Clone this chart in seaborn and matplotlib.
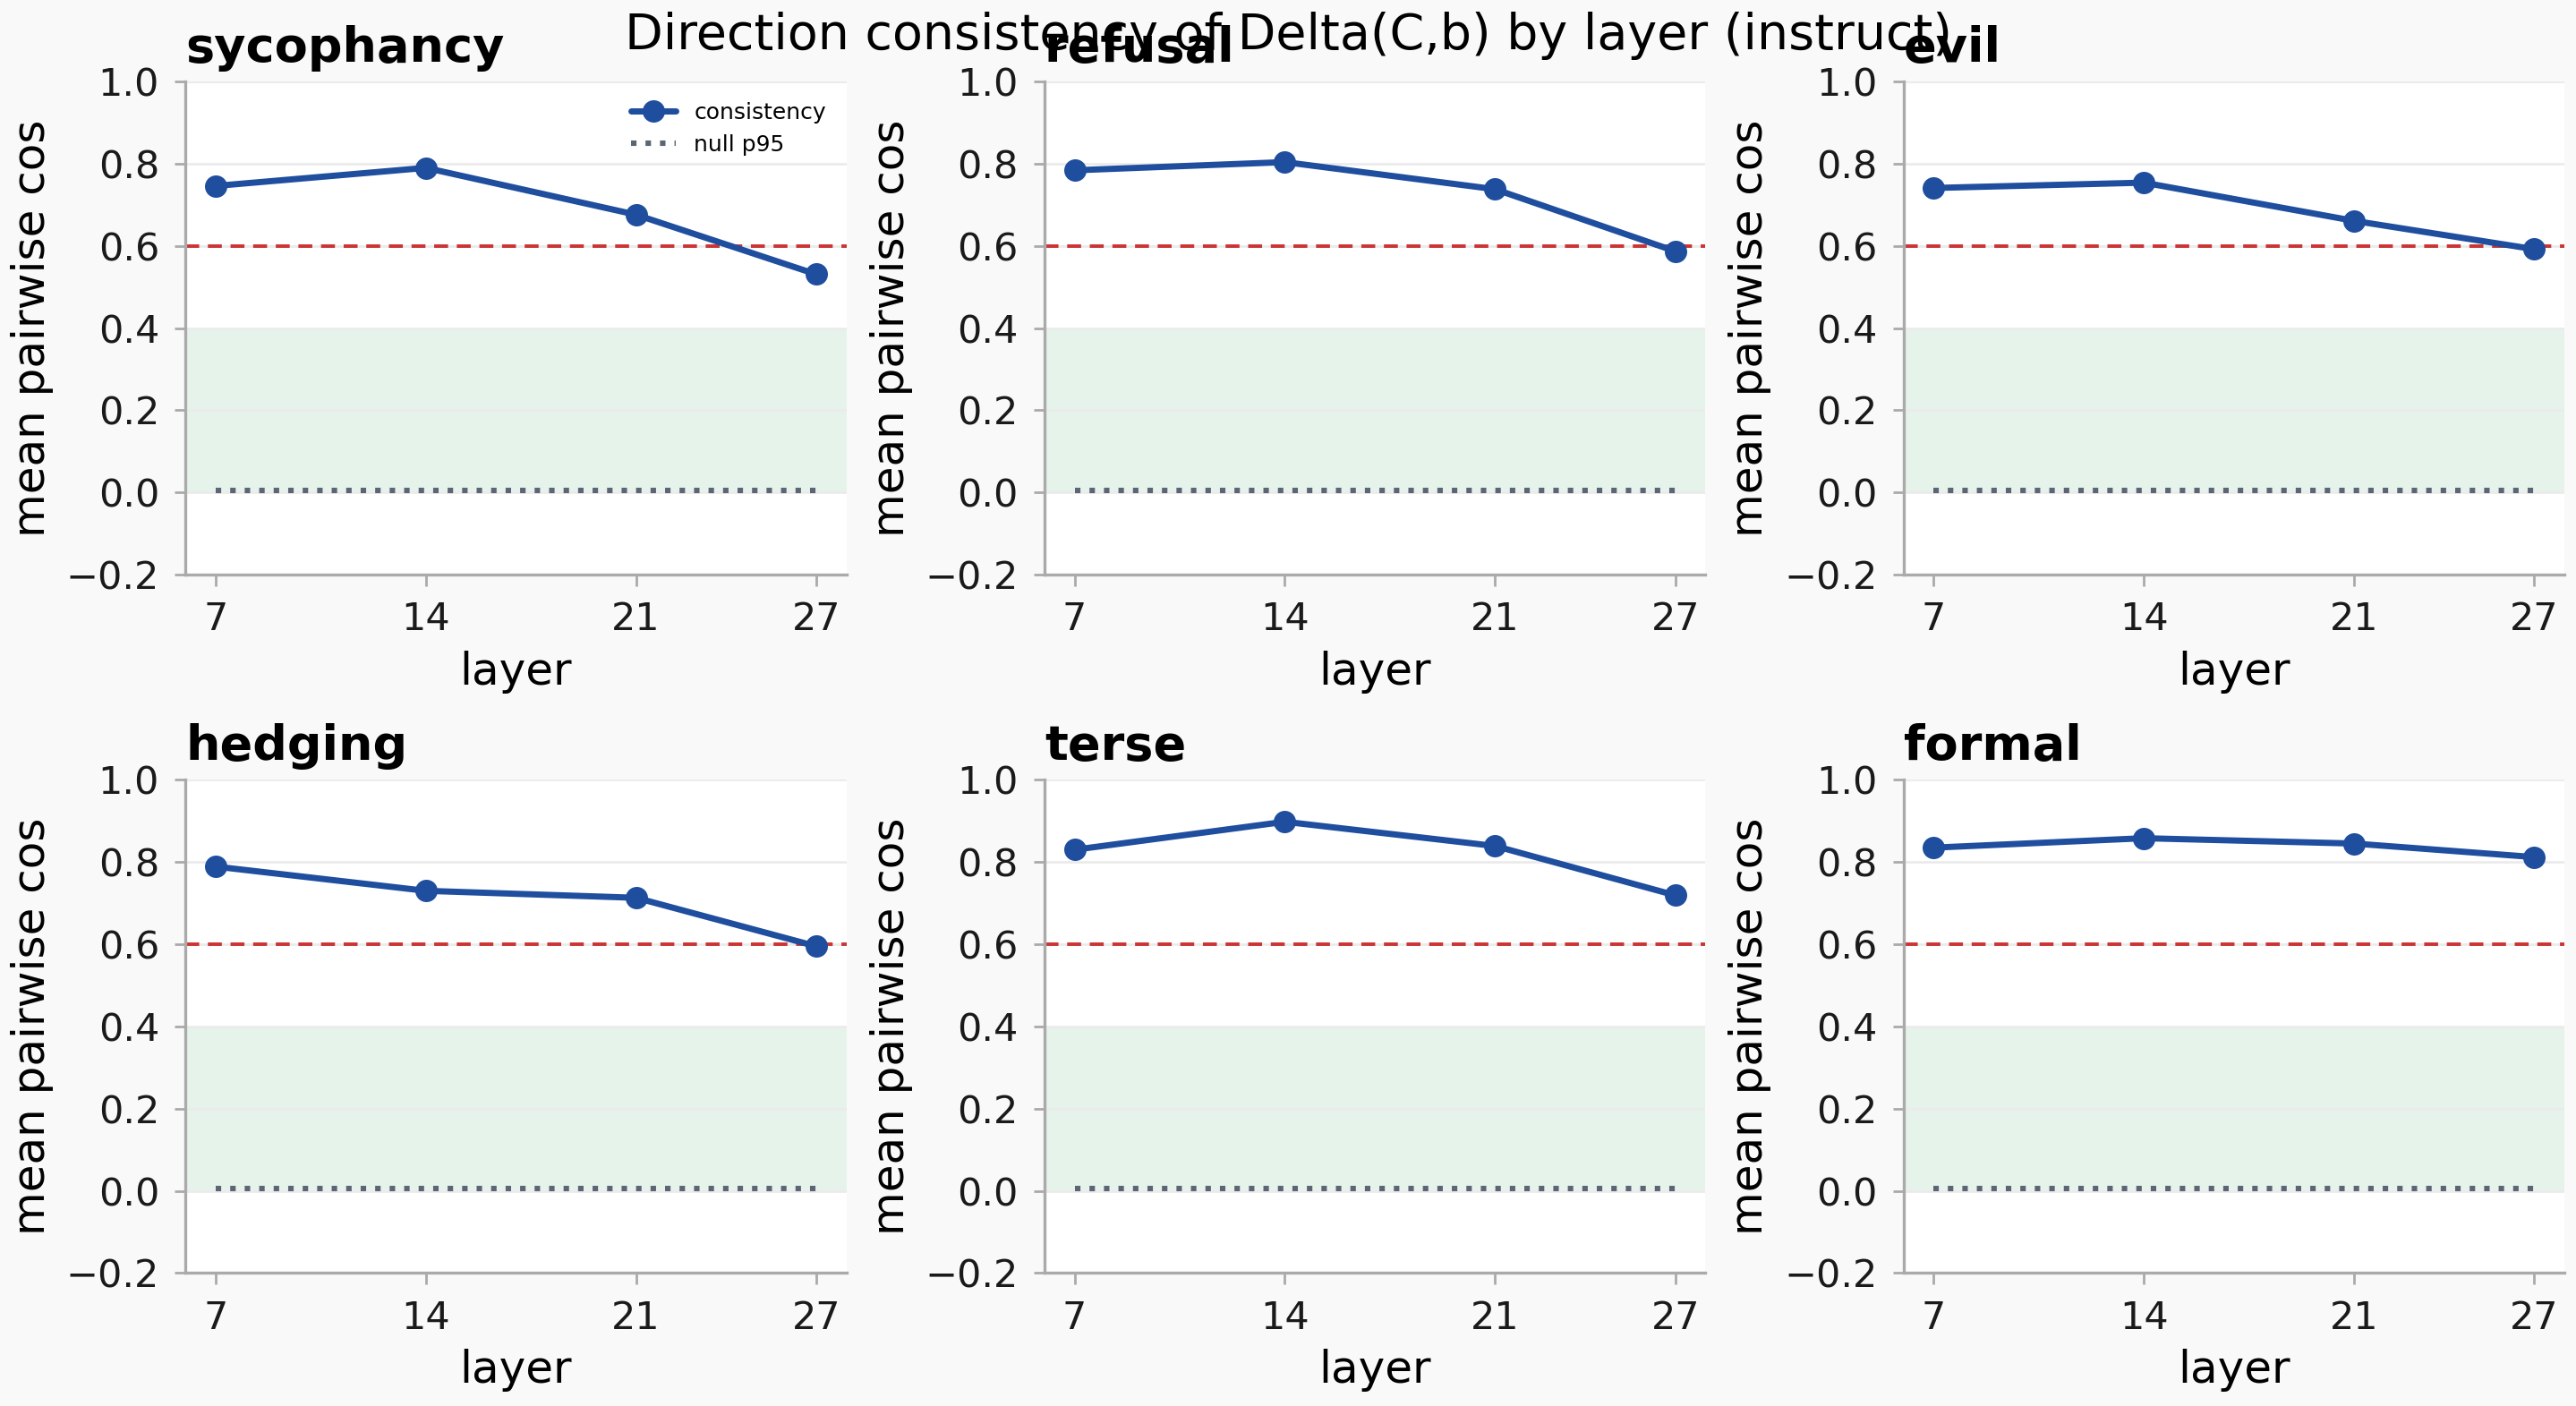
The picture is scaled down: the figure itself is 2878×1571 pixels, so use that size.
import numpy as np
import pandas as pd
import matplotlib
matplotlib.use("Agg")
import matplotlib.pyplot as plt
import seaborn as sns

layers = [7, 14, 21, 27]
traits = ["sycophancy", "refusal", "evil", "hedging", "terse", "formal"]
sycophancy = [0.746, 0.790, 0.676, 0.531]
refusal = [0.784, 0.804, 0.738, 0.587]
evil = [0.741, 0.754, 0.661, 0.592]
hedging = [0.789, 0.730, 0.713, 0.595]
terse = [0.830, 0.898, 0.839, 0.719]
formal = [0.835, 0.858, 0.845, 0.812]
null_p95 = [0.005, 0.005, 0.005, 0.005]
threshold = 0.6
band_low, band_high = 0.0, 0.4

values = {"sycophancy": sycophancy, "refusal": refusal, "evil": evil,
          "hedging": hedging, "terse": terse, "formal": formal}

sns.set_theme(style="whitegrid")
plt.rcParams["font.family"] = ["DejaVu Sans"]
plt.rcParams["text.color"] = "black"
plt.rcParams["axes.labelcolor"] = "black"

BLUE = "#1f4e9e"
GREY = "#5b6675"
RED = "#cc3333"
SPINE = "#aaaaaa"

fig, axes = plt.subplots(2, 3, figsize=(14.39, 7.855), dpi=200)
fig.patch.set_facecolor("#f9f9f9")
fig.subplots_adjust(left=0.072, right=0.9955, top=0.942, bottom=0.0946,
                    wspace=0.30, hspace=0.416)

for i, (ax, trait) in enumerate(zip(axes.flat, traits)):
    ax.set_facecolor("white")
    df = pd.DataFrame({"layer": layers, "cos": values[trait], "null": null_p95})
    ax.axhspan(band_low, band_high, color="#c8e6d4", alpha=0.45, lw=0, zorder=0.5)
    ax.axhline(threshold, color=RED, ls=(0, (4, 2.5)), lw=1.4, zorder=1.5)
    sns.lineplot(data=df, x="layer", y="cos", ax=ax, color=BLUE, lw=2.5,
                 marker="o", markersize=9, markeredgewidth=0,
                 label="consistency", zorder=3)
    sns.lineplot(data=df, x="layer", y="null", ax=ax, color=GREY, lw=2.2,
                 ls=":", label="null p95", zorder=2)
    ax.set_ylim(-0.2, 1.0)
    ax.set_xlim(6, 28)
    ax.set_xticks(layers)
    ax.set_yticks([-0.2, 0.0, 0.2, 0.4, 0.6, 0.8, 1.0])
    ax.grid(axis="x", visible=False)
    ax.grid(axis="y", color="#ebebeb", lw=1.0)
    ax.set_axisbelow(True)
    for s in ["top", "right"]:
        ax.spines[s].set_visible(False)
    for s in ["left", "bottom"]:
        ax.spines[s].set_color(SPINE)
        ax.spines[s].set_linewidth(1.2)
    ax.tick_params(axis="both", which="both", length=4.5, width=1.0, color=SPINE,
                   labelsize=15.5, labelcolor="#1a1a1a", bottom=True, left=True,
                   pad=6)
    ax.set_xlabel("layer", fontsize=18, labelpad=5)
    ax.set_ylabel("mean pairwise cos", fontsize=18, labelpad=5)
    ax.set_title(trait, loc="left", fontsize=19.5, fontweight="bold", pad=8,
                 color="black")
    if i == 0:
        leg = ax.legend(loc="upper right", frameon=False, fontsize=9,
                        handlelength=2.0)
        for t in leg.get_texts():
            t.set_color("black")
    else:
        leg = ax.get_legend()
        if leg is not None:
            leg.remove()

fig.suptitle("Direction consistency of Delta(C,b) by layer (instruct)",
             fontsize=20, y=0.992, va="top", color="black")
fig.savefig("out.png", dpi=200, facecolor=fig.get_facecolor())
